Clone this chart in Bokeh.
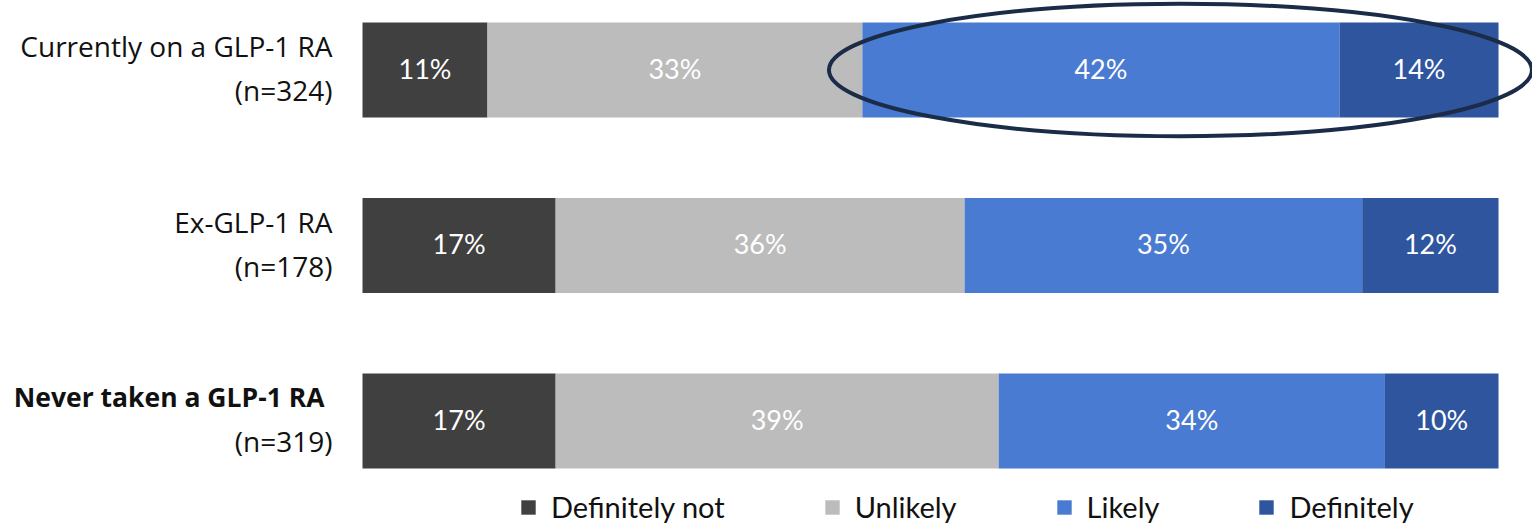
from bokeh.plotting import figure
from bokeh.models import ColumnDataSource, Range1d, Legend, LegendItem
from bokeh.core.properties import value
from bokeh.embed import file_html
from bokeh.resources import INLINE

groups = ["Currently on a GLP-1 RA", "Ex-GLP-1 RA", "Never taken a GLP-1 RA"]
sample_sizes = ["(n=324)", "(n=178)", "(n=319)"]
responses = ["Definitely not", "Unlikely", "Likely", "Definitely"]
definitely_not = [11, 17, 17]
unlikely = [33, 36, 39]
likely = [42, 35, 34]
definitely = [14, 12, 10]
colors = ["#404040", "#bcbcbc", "#4a7bd2", "#2f559f"]

series = [definitely_not, unlikely, likely, definitely]

p = figure(width=1532, height=526, output_backend="svg", toolbar_location=None,
           x_range=Range1d(-31.866, 102.99), y_range=Range1d(2.601, -0.396),
           min_border=0)
p.xaxis.visible = False
p.yaxis.visible = False
p.xgrid.visible = False
p.ygrid.visible = False
p.outline_line_color = None
p.background_fill_color = "white"

rows = list(range(len(groups)))
bar_h = 0.542
left = [0.0] * len(groups)
renderers = []
for name, vals, col in zip(responses, series, colors):
    right = [l + v for l, v in zip(left, vals)]
    src = ColumnDataSource(dict(y=rows, left=left, right=right,
                                mid=[(l + r) / 2 for l, r in zip(left, right)],
                                lab=[f"{v}%" for v in vals]))
    r = p.hbar(y="y", left="left", right="right", height=bar_h, source=src,
               fill_color=col, line_color=None)
    renderers.append((name, r))
    p.text(x="mid", y="y", text="lab", source=src, text_color="white",
           text_font=value("Lato"), text_font_size="27px",
           text_align="center", text_baseline="middle", y_offset=-2)
    left = right

# category labels
lab_src = ColumnDataSource(dict(
    x=[0] * len(groups), y=rows, g=groups, n=sample_sizes,
    style=["normal", "normal", "bold"],
    size=["28px", "28px", "26.5px"],
    xo=[-30, -30, -38], xo2=[-30, -30, -30]))
p.text(x="x", y="y", text="g", source=lab_src, text_color="#111111",
       text_font=value("Open Sans"), text_font_size="size",
       text_font_style="style", text_align="right", text_baseline="middle",
       x_offset="xo", y_offset=-24)
p.text(x="x", y="y", text="n", source=lab_src, text_color="#111111",
       text_font=value("Open Sans"), text_font_size="28px",
       text_align="right", text_baseline="middle",
       x_offset="xo2", y_offset=20)

# highlight ellipse around Likely + Definitely of the first group
pos_start = definitely_not[0] + unlikely[0]
pos_total = likely[0] + definitely[0]
p.ellipse(x=[pos_start + pos_total / 2], y=[0], width=[pos_total * 1.105],
          height=[0.755], fill_color=None, line_color="#1b2c48", line_width=4)

legend = Legend(items=[LegendItem(label=n, renderers=[r]) for n, r in renderers],
                orientation="horizontal", location=(519, 2),
                glyph_width=18, glyph_height=18, label_standoff=14, spacing=98,
                label_text_font="Lato", label_text_font_size="29px",
                label_text_color="#111111", border_line_color=None,
                background_fill_alpha=0, padding=4, margin=0)
p.add_layout(legend, "center")

open("out.html", "w").write(file_html(p, INLINE))
